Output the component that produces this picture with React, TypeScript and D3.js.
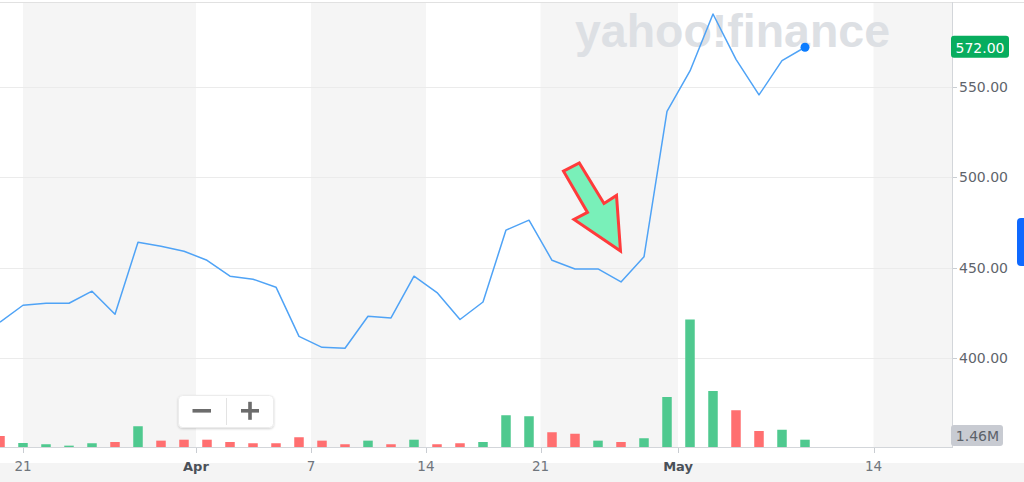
import React from "react";
import * as d3 from "d3";

// ---- data ----
const closePrices: number[] = [
  419.8, 429.2, 430.3, 430.3, 437.0, 424.2, 464.1, 461.9, 459.1, 454.1, 445.3, 443.6,
  439.2, 412.0, 405.9, 405.4, 423.1, 422.2, 445.3, 436.2, 421.3, 431.0, 470.8, 476.3,
  454.1, 449.3, 449.3, 442.1, 456.0, 536.5, 558.9, 590.4, 565.3, 545.6, 564.6, 572.0,
];
// volume in millions
const volumes: number[] = [
  2.2, 0.8, 0.55, 0.27, 0.75, 1.0, 4.15, 1.27, 1.46, 1.46, 1.0, 0.75,
  0.75, 1.95, 1.27, 0.55, 1.27, 0.55, 1.46, 0.55, 0.75, 1.0, 6.35, 6.15,
  2.95, 2.65, 1.27, 1.0, 1.75, 10.0, 25.5, 11.2, 7.35, 3.2, 3.45, 1.46,
];
const volumeUp: boolean[] = [
  false, true, true, true, true, false, true, false, false, false, false, false,
  false, false, false, false, true, false, true, false, false, true, true, true,
  false, false, true, false, true, true, true, true, false, false, true, true,
];
const xTickLabels: string[] = ["21", "Apr", "7", "14", "21", "May", "14"];
const xTickIndex: number[] = [1.0, 8.52, 13.52, 18.52, 23.5, 29.48, 37.98];
const xTickIsMonth: boolean[] = [false, true, false, false, false, true, false];
const yTicks: number[] = [400, 450, 500, 550];
const lastPriceLabel = "572.00";
const lastVolumeLabel = "1.46M";
const annotatedIndex = 27;

const W = 1024;
const H = 482;
const plotLeft = 0;
const plotRight = 952;
const plotTop = 2;
const plotBottom = 447;
const FONT = "'DejaVu Sans', Verdana, sans-serif";

export default function App() {
  const n = closePrices.length;
  const x = d3.scaleLinear().domain([0, n - 1]).range([0, 805]);
  const xMaxIdx = x.invert(plotRight);
  const y = d3.scaleLinear().domain([350.74, 597.05]).range([plotBottom, plotTop]);
  const yVol = d3.scaleLinear().domain([0, 30]).range([plotBottom, plotBottom - 150]);

  const line = d3
    .line<number>()
    .x((_, i) => x(i))
    .y((d) => y(d));

  // alternating week bands between ticks
  const bandEdges = [x.invert(plotLeft), ...xTickIndex, xMaxIdx];
  const bands: { x0: number; x1: number; gray: boolean }[] = [];
  for (let k = 0; k < bandEdges.length - 1; k++) {
    bands.push({ x0: x(bandEdges[k]), x1: x(bandEdges[k + 1]), gray: k % 2 === 1 });
  }

  const barW = 9.5;
  const last = n - 1;

  // annotation arrow anchored above the annotated point
  const tipX = x(annotatedIndex) - 0.5;
  const tipY = y(closePrices[annotatedIndex]) - 31;
  const arrowRel: [number, number][] = [
    [-57, -79.8],
    [-41.2, -88],
    [-16.5, -47.5],
    [-4, -55.5],
    [0, 0],
    [-46.5, -31.5],
    [-33, -38.5],
  ];
  const arrowPts = arrowRel.map(([dx, dy]) => `${tipX + dx},${tipY + dy}`).join(" ");

  return (
    <div style={{ position: "absolute", left: 0, top: 0, width: W, height: H }}>
      <svg width={W} height={H} style={{ display: "block", fontFamily: FONT }}>
        <defs>
          <clipPath id="plotClip">
            <rect x={plotLeft} y={plotTop} width={plotRight - plotLeft} height={plotBottom - plotTop} />
          </clipPath>
          <filter id="btnShadow" x="-20%" y="-30%" width="140%" height="170%">
            <feDropShadow dx="0" dy="1" stdDeviation="1.2" floodColor="#000" floodOpacity="0.18" />
          </filter>
        </defs>
        <rect x={0} y={0} width={W} height={H} fill="#ffffff" />

        {/* week bands */}
        {bands.map((b, i) =>
          b.gray ? (
            <rect key={i} x={b.x0} y={plotTop} width={b.x1 - b.x0} height={plotBottom - plotTop} fill="#f5f5f5" />
          ) : null
        )}

        {/* bottom strip */}
        <rect x={0} y={463} width={W} height={H - 463} fill="#f4f4f4" />

        {/* top border */}
        <line x1={0} x2={W} y1={2.5} y2={2.5} stroke="#e1e1e1" strokeWidth={1} />

        {/* horizontal grid */}
        {yTicks.map((t) => (
          <line key={t} x1={plotLeft} x2={plotRight} y1={Math.round(y(t)) + 0.5} y2={Math.round(y(t)) + 0.5} stroke="#ebebeb" strokeWidth={1} />
        ))}

        {/* watermark */}
        <text
          x={575}
          y={47}
          fontSize={47}
          fontWeight={900}
          fill="#dde0e4"
          textLength={315}
          lengthAdjust="spacingAndGlyphs"
          style={{ fontFamily: "'Liberation Sans', Arial, sans-serif" }}
        >
          yahoo!finance
        </text>

        {/* volume bars */}
        <g clipPath="url(#plotClip)">
          {volumes.map((v, i) => (
            <rect
              key={i}
              x={x(i) - barW / 2}
              y={yVol(v)}
              width={barW}
              height={plotBottom - yVol(v)}
              fill={volumeUp[i] ? "#4fc98f" : "#ff6f70"}
            />
          ))}
          {/* price line */}
          <path d={line(closePrices) || ""} fill="none" stroke="#4fa3f6" strokeWidth={1.5} strokeLinejoin="round" />
        </g>
        <circle cx={x(last)} cy={y(closePrices[last])} r={4.5} fill="#0b7cff" />

        {/* arrow annotation */}
        <polygon points={arrowPts} fill="#79f0b9" stroke="#ff3b3b" strokeWidth={3} strokeLinejoin="miter" />

        {/* axes lines */}
        <line x1={plotLeft} x2={plotRight} y1={plotBottom + 0.5} y2={plotBottom + 0.5} stroke="#d3d6da" strokeWidth={1} />
        <line x1={plotRight + 0.5} x2={plotRight + 0.5} y1={plotTop} y2={plotBottom + 1} stroke="#d3d6da" strokeWidth={1} />

        {/* x ticks */}
        {xTickIndex.map((t, i) => {
          const px = Math.round(x(t)) + 0.5;
          return (
            <g key={i}>
              <line x1={px} x2={px} y1={plotBottom + 1} y2={plotBottom + 6} stroke="#c9cdd2" strokeWidth={1} />
              <text
                x={x(t)}
                y={466}
                textAnchor="middle"
                dominantBaseline="central"
                fontSize={xTickIsMonth[i] ? 13 : 13.5}
                fontWeight={xTickIsMonth[i] ? 700 : 400}
                fill={xTickIsMonth[i] ? "#4a5058" : "#6f757c"}
              >
                {xTickLabels[i]}
              </text>
            </g>
          );
        })}

        {/* y ticks */}
        {yTicks.map((t) => (
          <g key={t}>
            <line x1={plotRight + 1} x2={plotRight + 5} y1={Math.round(y(t)) + 0.5} y2={Math.round(y(t)) + 0.5} stroke="#c9cdd2" strokeWidth={1} />
            <text x={959} y={y(t)} dominantBaseline="central" fontSize={14} fill="#5f656c">
              {d3.format(".2f")(t)}
            </text>
          </g>
        ))}

        {/* last price label */}
        <rect x={951} y={y(closePrices[last]) - 11.5} width={58} height={22} rx={3} fill="#07ad5e" />
        <text x={980} y={y(closePrices[last]) + 0.5} textAnchor="middle" dominantBaseline="central" fontSize={14} fill="#ffffff">
          {lastPriceLabel}
        </text>

        {/* last volume label */}
        <rect x={951} y={425} width={52} height={21} rx={3} fill="#c8cbd2" />
        <text x={977.5} y={436} textAnchor="middle" dominantBaseline="central" fontSize={14} fill="#5c626a">
          {lastVolumeLabel}
        </text>

        {/* blue side tab */}
        <rect x={1017} y={218} width={14} height={48} rx={4} fill="#0f69ff" />

        {/* zoom buttons */}
        <g filter="url(#btnShadow)">
          <rect x={178.5} y={395.5} width={95} height={32} rx={4} fill="#ffffff" stroke="#ececec" />
        </g>
        <line x1={226.5} x2={226.5} y1={398} y2={425} stroke="#e3e3e3" strokeWidth={1} />
        <rect x={192.5} y={409} width={18.5} height={3.6} fill="#6c6c6c" />
        <rect x={241} y={409} width={18} height={3.6} fill="#6c6c6c" />
        <rect x={248.2} y={401.8} width={3.6} height={18} fill="#6c6c6c" />
      </svg>
    </div>
  );
}
